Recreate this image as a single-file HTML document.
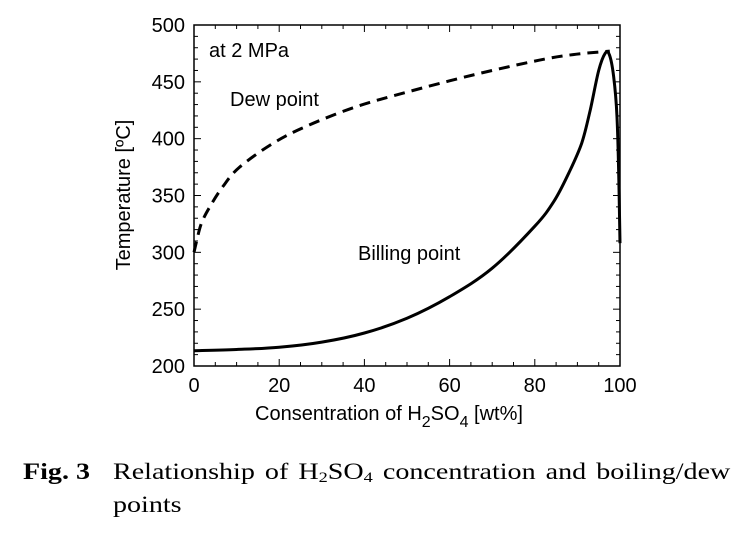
<!DOCTYPE html>
<html><head><meta charset="utf-8"><style>
body{margin:0;background:#fff;width:753px;height:535px;overflow:hidden;position:relative}
svg{display:block}
.s{font-family:"Liberation Sans",sans-serif;fill:#000}
.cap{position:absolute;font-family:"Liberation Serif",serif;font-size:23px;color:#000;line-height:33px;transform:scaleX(1.22);transform-origin:0 0;white-space:nowrap}
</style></head><body>
<svg id="c" width="753" height="535" style="position:absolute;left:0;top:0"></svg>
<script>
const xTicks=[0,20,40,60,80,100];
const yTicks=[200,250,300,350,400,450,500];
const dewX=[0,0.5,1.7,3.7,6.8,10.7,18.6,26.4,38,50,65.5,81,89,97.6];
const dewY=[300,308,325,340,358,375,396,411,428,441,456,469,474,477];
const boilX=[0,10,20,30,40,50,60,70,80,84.5,88,91,93,95,96.5,97.5,98.5,99.3,99.8,100];
const boilY=[213.5,214.5,216.5,221,229,242,261,286,323,345,370,396,425,460,475,474,455,419,352,308];
const NS='http://www.w3.org/2000/svg';
const svg=document.getElementById('c');
const L=194,R=620,T=25,B=366;
const X=v=>L+(v-0)/100*(R-L);
const Y=v=>B-(v-200)/300*(B-T);
function el(t,a,txt){const e=document.createElementNS(NS,t);for(const k in a)e.setAttribute(k,a[k]);if(txt!=null)e.textContent=txt;svg.appendChild(e);return e;}
let f=el('rect',{x:L,y:T,width:R-L,height:B-T,fill:'none',stroke:'#000','stroke-width':1.5});


for(let v=0;v<=100;v+=5){const len=v%20===0?7:4;
 el('line',{x1:X(v),x2:X(v),y1:B,y2:B-len,stroke:'#000'});
 el('line',{x1:X(v),x2:X(v),y1:T,y2:T+len,stroke:'#000'});}
for(let v=200;v<=500;v+=10){const len=v%50===0?7:4;
 el('line',{x1:L,x2:L+len,y1:Y(v),y2:Y(v),stroke:'#000'});
 el('line',{x1:R,x2:R-len,y1:Y(v),y2:Y(v),stroke:'#000'});}
xTicks.forEach(v=>{const t=el('text',{x:X(v),y:B+26,'text-anchor':'middle','font-size':20,class:'s'},v);
 
 });
yTicks.forEach(v=>{const t=el('text',{x:L-9,y:Y(v)+7,'text-anchor':'end','font-size':20,class:'s'},v);
 
 });
function path(xs,ys){
 const p=xs.map((x,i)=>[X(x),Y(ys[i])]);
 let d='M'+p[0][0].toFixed(1)+','+p[0][1].toFixed(1);
 for(let i=0;i<p.length-1;i++){
  const p0=p[Math.max(0,i-1)],p1=p[i],p2=p[i+1],p3=p[Math.min(p.length-1,i+2)];
  const c1=[p1[0]+(p2[0]-p0[0])/6,p1[1]+(p2[1]-p0[1])/6];
  const c2=[p2[0]-(p3[0]-p1[0])/6,p2[1]-(p3[1]-p1[1])/6];
  d+='C'+c1.map(n=>n.toFixed(1)).join(',')+' '+c2.map(n=>n.toFixed(1)).join(',')+' '+p2[0].toFixed(1)+','+p2[1].toFixed(1);
 }
 return d;}
let d=el('path',{d:path(dewX,dewY),fill:'none',stroke:'#000','stroke-width':3,'stroke-dasharray':'11,7'});


let b=el('path',{d:path(boilX,boilY),fill:'none',stroke:'#000','stroke-width':3,'stroke-linejoin':'round'});


</script>
<svg width="753" height="535" style="position:absolute;left:0;top:0">
<text class="s" x="209" y="57" font-size="20">at 2 MPa</text>
<text class="s" x="230" y="106" font-size="20">Dew point</text>
<text class="s" x="358" y="260" font-size="20">Billing point</text>
<text class="s" x="130" y="195" font-size="20" text-anchor="middle" transform="rotate(-90 130 195)">Temperature [ºC]</text>
<text class="s" x="255" y="420" font-size="20">Consentration of H<tspan dy="7" font-size="16">2</tspan><tspan dy="-7">SO</tspan><tspan dy="7" font-size="16">4</tspan><tspan dy="-7"> [wt%]</tspan></text>
</svg>
<div class="cap" style="left:23px;top:455px;font-weight:bold">Fig. 3</div>
<div class="cap" style="left:113px;top:455px;width:506px;white-space:normal;text-align:justify;text-align-last:justify">Relationship of H<sub style="font-size:15px;vertical-align:-3px">2</sub>SO<sub style="font-size:15px;vertical-align:-3px">4</sub> concentration and boiling/dew</div>
<div class="cap" style="left:113px;top:488px">points</div>
</body></html>
